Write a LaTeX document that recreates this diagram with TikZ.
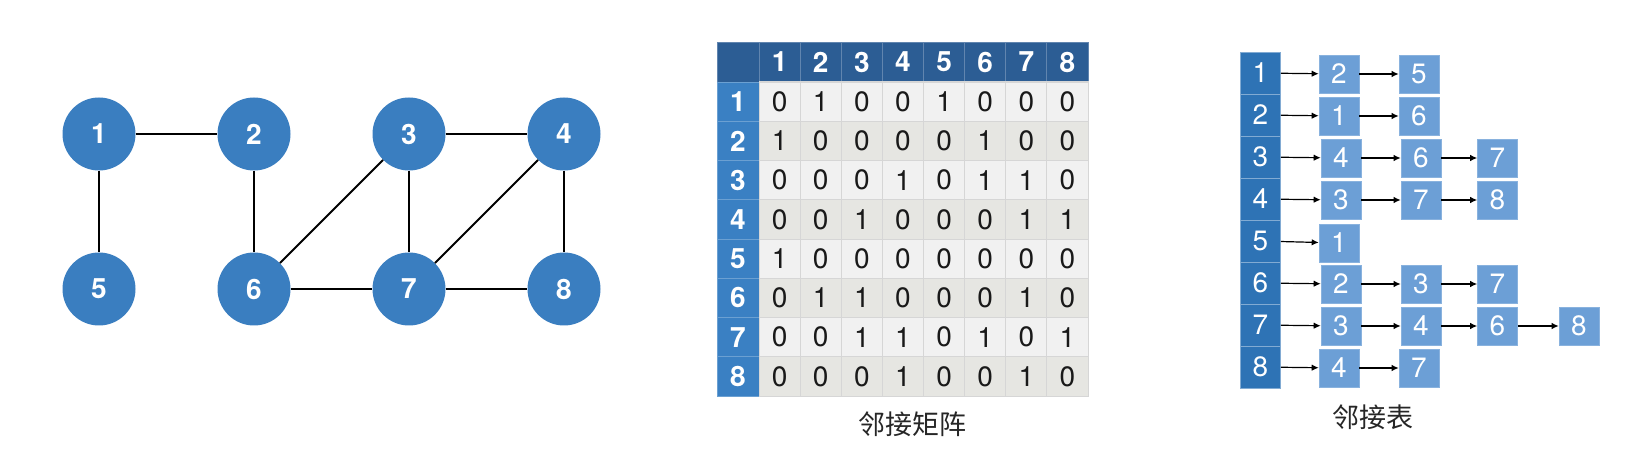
\documentclass[tikz,border=0pt]{standalone}
\usepackage{fontspec}
\setmainfont{TeX Gyre Heros}
\newfontfamily\cjk{Noto Sans CJK SC}
\usetikzlibrary{arrows.meta}
\definecolor{gnode}{HTML}{3A7EC0}
\definecolor{hdrow}{HTML}{2C5D94}
\definecolor{hdcol}{HTML}{3A80C3}
\definecolor{celllight}{HTML}{F1F1F1}
\definecolor{celldark}{HTML}{E6E6E2}
\definecolor{gridc}{HTML}{D6D6D6}
\definecolor{listdark}{HTML}{2E73B5}
\definecolor{listbox}{HTML}{6C9FD6}
\begin{document}
\begin{tikzpicture}[x=1pt,y=-1pt,
  gv/.style={circle,fill=gnode,minimum size=73pt,inner sep=0pt,text=white,font=\fontsize{28}{28}\selectfont\bfseries},
  gedge/.style={line width=1.8pt,black},
  mhd/.style={rectangle,fill=hdrow,draw=hdrow!75!white,line width=0.8pt,minimum width=41.1pt,minimum height=40pt,inner sep=0pt,text=white,font=\fontsize{28}{28}\selectfont\bfseries},
  mcol/.style={rectangle,fill=hdcol,draw=hdcol!75!white,line width=0.8pt,minimum width=42pt,minimum height=39.25pt,inner sep=0pt,text=white,font=\fontsize{28}{28}\selectfont\bfseries},
  mcell/.style={rectangle,draw=gridc,line width=0.8pt,minimum width=41.1pt,minimum height=39.25pt,inner sep=0pt,text=black!90,font=\fontsize{28}{28}\selectfont},
  lhead/.style={rectangle,fill=listdark,draw=listdark!60!white,line width=0.8pt,minimum width=40pt,minimum height=42pt,inner sep=0pt,text=white,font=\fontsize{28}{28}\selectfont},
  lbox/.style={rectangle,fill=listbox,draw=listbox!80!white,line width=0.6pt,minimum width=40pt,minimum height=38pt,inner sep=0pt,text=white,font=\fontsize{28}{28}\selectfont},
  arr/.style={line width=1.2pt,-{Latex[length=7pt,width=6.5pt]}},
  captext/.style={font=\cjk\fontsize{27}{27}\selectfont,text=black!85}
]
\useasboundingbox (0,0) rectangle (1636,454);

% ---------------- graph ----------------
\node[gv] (g1) at (99,134) {1};
\node[gv] (g2) at (254,134) {2};
\node[gv] (g3) at (409,134) {3};
\node[gv] (g4) at (564,134) {4};
\node[gv] (g5) at (99,289) {5};
\node[gv] (g6) at (254,289) {6};
\node[gv] (g7) at (409,289) {7};
\node[gv] (g8) at (564,289) {8};
\draw[gedge] (g1) -- (g2);
\draw[gedge] (g1) -- (g5);
\draw[gedge] (g2) -- (g6);
\draw[gedge] (g3) -- (g4);
\draw[gedge] (g3) -- (g6);
\draw[gedge] (g3) -- (g7);
\draw[gedge] (g4) -- (g7);
\draw[gedge] (g4) -- (g8);
\draw[gedge] (g6) -- (g7);
\draw[gedge] (g7) -- (g8);

% ---------------- matrix ----------------
\node[mhd,minimum width=42pt] (mcorner) at (738,62) {};
\foreach \j in {1,...,8}{
  \node[mhd] (mh\j) at ({759+41.125*(\j-0.5)},62) {\j};
}
\foreach \i in {1,...,8}{
  \node[mcol] (mr\i) at (738,{82+39.25*(\i-0.5)}) {\i};
}
\foreach \i/\row in {1/{0,1,0,0,1,0,0,0},2/{1,0,0,0,0,1,0,0},3/{0,0,0,1,0,1,1,0},4/{0,0,1,0,0,0,1,1},5/{1,0,0,0,0,0,0,0},6/{0,1,1,0,0,0,1,0},7/{0,0,1,1,0,1,0,1},8/{0,0,0,1,0,0,1,0}}{
  \pgfmathsetmacro{\odd}{int(mod(\i,2))}
  \ifnum\odd=1 \def\cfill{celllight}\else\def\cfill{celldark}\fi
  \foreach \v [count=\j] in \row {
    \node[mcell,fill=\cfill] (m\i-\j) at ({759+41.125*(\j-0.5)},{82+39.25*(\i-0.5)}) {\v};
  }
}
\draw[gridc,line width=0.8pt] (mr1.north east) rectangle (m8-8.south east);
\node[captext] (mcap) at (912,424) {邻接矩阵};

% ---------------- adjacency list ----------------
\foreach \i in {1,...,8}{
  \node[lhead] (l\i) at (1260.5,{73+42*(\i-1)}) {\i};
}
% row 1
\node[lbox] (b1-1) at (1339,74) {2};
\node[lbox] (b1-2) at (1419,74) {5};
\draw[arr] (l1) -- (b1-1);
\draw[arr] (b1-1) -- (b1-2);
% row 2
\node[lbox] (b2-1) at (1339,116) {1};
\node[lbox] (b2-2) at (1419,116) {6};
\draw[arr] (l2) -- (b2-1);
\draw[arr] (b2-1) -- (b2-2);
% row 3
\node[lbox] (b3-1) at (1341,158) {4};
\node[lbox] (b3-2) at (1421,158) {6};
\node[lbox] (b3-3) at (1497.5,158) {7};
\draw[arr] (l3) -- (b3-1);
\draw[arr] (b3-1) -- (b3-2);
\draw[arr] (b3-2) -- (b3-3);
% row 4
\node[lbox] (b4-1) at (1341,200) {3};
\node[lbox] (b4-2) at (1421,200) {7};
\node[lbox] (b4-3) at (1497.5,200) {8};
\draw[arr] (l4) -- (b4-1);
\draw[arr] (b4-1) -- (b4-2);
\draw[arr] (b4-2) -- (b4-3);
% row 5
\node[lbox] (b5-1) at (1339,243) {1};
\draw[arr] (l5) -- (b5-1);
% row 6
\node[lbox] (b6-1) at (1341,284) {2};
\node[lbox] (b6-2) at (1421,284) {3};
\node[lbox] (b6-3) at (1497.5,284) {7};
\draw[arr] (l6) -- (b6-1);
\draw[arr] (b6-1) -- (b6-2);
\draw[arr] (b6-2) -- (b6-3);
% row 7
\node[lbox] (b7-1) at (1341,326) {3};
\node[lbox] (b7-2) at (1421,326) {4};
\node[lbox] (b7-3) at (1497.5,326) {6};
\node[lbox] (b7-4) at (1579,326) {8};
\draw[arr] (l7) -- (b7-1);
\draw[arr] (b7-1) -- (b7-2);
\draw[arr] (b7-2) -- (b7-3);
\draw[arr] (b7-3) -- (b7-4);
% row 8
\node[lbox] (b8-1) at (1339,368) {4};
\node[lbox] (b8-2) at (1419,368) {7};
\draw[arr] (l8) -- (b8-1);
\draw[arr] (b8-1) -- (b8-2);
\node[captext] (lcap) at (1373,417) {邻接表};
\end{tikzpicture}
\end{document}
